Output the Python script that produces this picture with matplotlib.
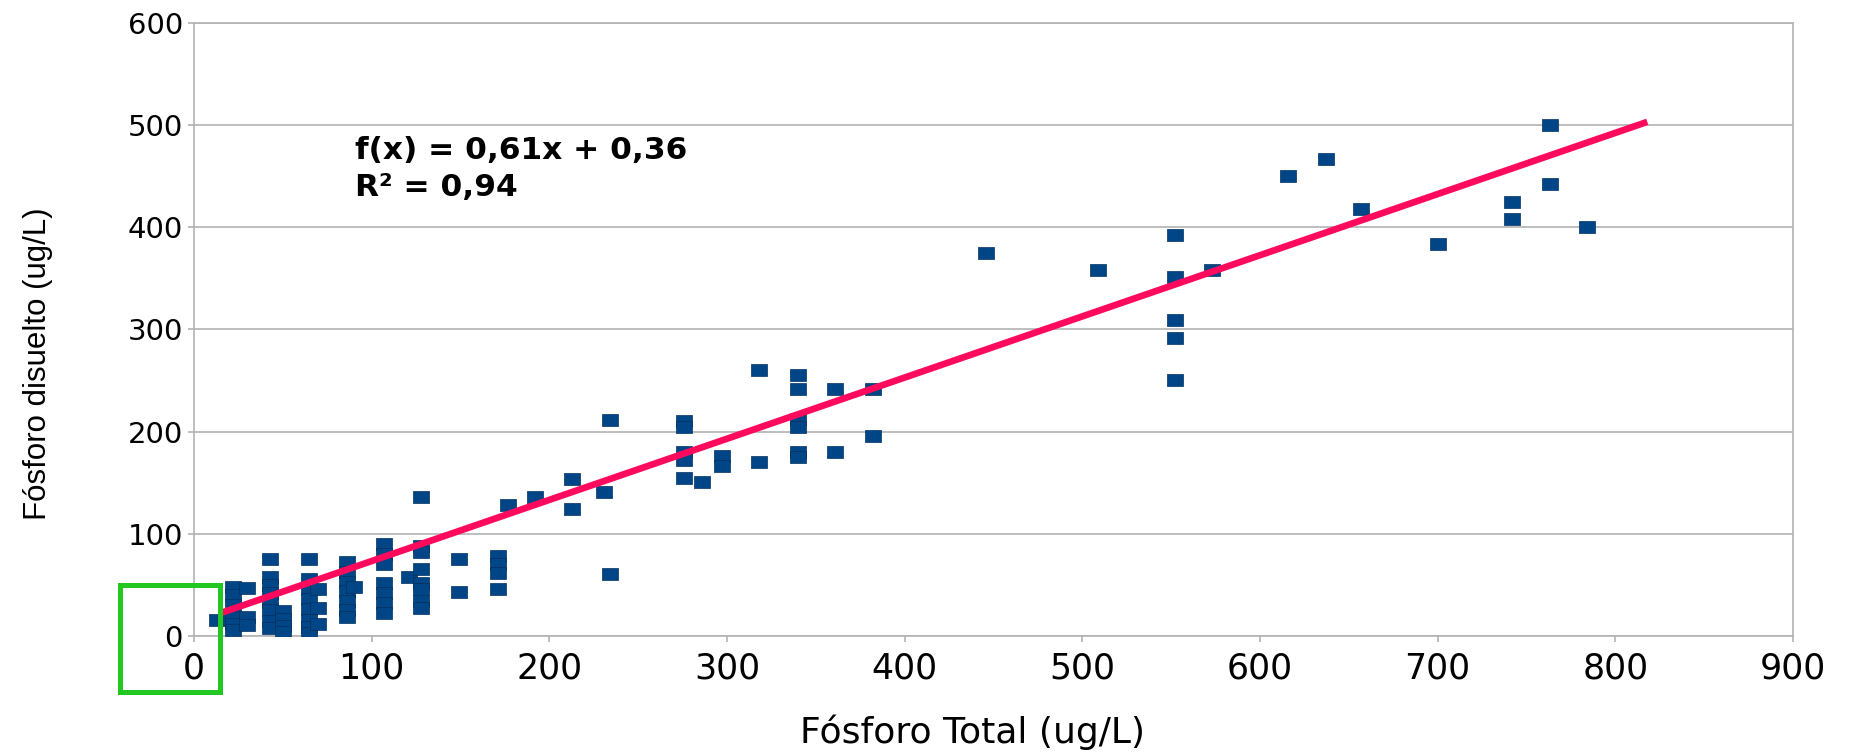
import matplotlib
matplotlib.use('Agg')
import matplotlib.pyplot as plt
from matplotlib.patches import Rectangle

# total phosphorus (x) and dissolved phosphorus (y), ug/L
fosforo_total = [
    13,
    22, 22, 22, 22, 22, 22,
    30, 30, 30,
    43, 43, 43, 43, 43, 43, 43, 43,
    50, 50, 50, 50,
    65, 65, 65, 65, 65, 65, 65, 65,
    70, 70, 70,
    86, 86, 86, 86, 86, 86, 86,
    90,
    107, 107, 107, 107, 107, 107, 107,
    121,
    128, 128, 128, 128, 128, 128, 128, 128,
    149, 149,
    171, 171, 171, 171,
    177, 192, 213, 213, 231, 234, 234,
    276, 276, 276, 276, 276,
    286, 297, 297, 318, 318,
    340, 340, 340, 340, 340, 340,
    361, 361, 382, 382,
    446, 509,
    552, 552, 552, 552, 552,
    573, 616, 637, 657, 700, 742, 742, 763, 763, 784,
]
fosforo_disuelto = [
    16,
    48, 40, 30, 19, 12, 6,
    47, 19, 11,
    75, 58, 50, 42, 33, 25, 15, 8,
    24, 17, 10, 4,
    75, 56, 46, 36, 26, 16, 9, 3,
    46, 27, 12,
    72, 63, 53, 44, 34, 25, 19,
    48,
    90, 80, 70, 52, 42, 32, 23,
    58,
    136, 88, 82, 66, 52, 46, 34, 27,
    75, 43,
    78, 70, 62, 46,
    128, 136, 154, 124, 141, 211, 61,
    210, 204, 180, 172, 155,
    151, 176, 166, 260, 170,
    255, 242, 212, 204, 180, 175,
    242, 180, 242, 196,
    375, 358,
    392, 351, 309, 292, 250,
    358, 450, 467, 418, 384, 425, 408, 500, 442, 400,
]

# linear trend line as drawn in the chart
trend_x = [14.6, 818]
trend_y = [22.2, 503]
equation = 'f(x) = 0,61x + 0,36'
r_squared = 'R² = 0,94'

x_ticks = [0, 100, 200, 300, 400, 500, 600, 700, 800, 900]
y_ticks = [0, 100, 200, 300, 400, 500, 600]

POINT_COLOR = '#004586'
LINE_COLOR = '#ff0a5c'
GRID_COLOR = '#b3b3b3'
BOX_COLOR = '#22c722'

fig = plt.figure(figsize=(18.54, 7.55), dpi=100)
ax = fig.add_axes([0.1046, 0.1576, 0.8625, 0.8123])

# slightly wide square markers, like the original
rect_marker = [(-1.2, -1), (1.2, -1), (1.2, 1), (-1.2, 1), (-1.2, -1)]
ax.plot(fosforo_total, fosforo_disuelto, linestyle='none', marker=rect_marker,
        markersize=11, color=POINT_COLOR, markeredgecolor='#003060',
        markeredgewidth=0.5, zorder=3)
ax.plot(trend_x, trend_y, color=LINE_COLOR, linewidth=4.8,
        solid_capstyle='butt', zorder=4)

ax.set_xlim(0, 900)
ax.set_ylim(0, 600)
ax.set_xticks(x_ticks)
ax.set_yticks(y_ticks)

ax.yaxis.grid(True, color=GRID_COLOR, linewidth=1.2)
ax.set_axisbelow(True)
for spine in ax.spines.values():
    spine.set_color(GRID_COLOR)
    spine.set_linewidth(1.2)

ax.tick_params(axis='x', length=4, width=1.2, color=GRID_COLOR,
               labelsize=25, pad=7)
ax.tick_params(axis='y', length=4, width=1.2, color=GRID_COLOR,
               labelsize=21, pad=4)

ax.set_xlabel('Fósforo Total (ug/L)', fontsize=26, va='top')
ax.xaxis.set_label_coords(0.4866, -0.128)
ax.set_ylabel('Fósforo disuelto (ug/L)', fontsize=22.5, family='Liberation Sans')
ax.yaxis.set_label_coords(-0.088, 0.4435)

ax.text(90.6, 475, equation, fontsize=22.5, weight='bold', va='center', zorder=5)
ax.text(90.6, 439, r_squared, fontsize=22.5, weight='bold', va='center', zorder=5)

# green highlight box around the origin
fig.patches.append(Rectangle((0.0645, 0.0835), 0.054, 0.1415, transform=fig.transFigure,
                             fill=False, edgecolor=BOX_COLOR, linewidth=3.6))

fig.savefig('out.png', dpi=100)
